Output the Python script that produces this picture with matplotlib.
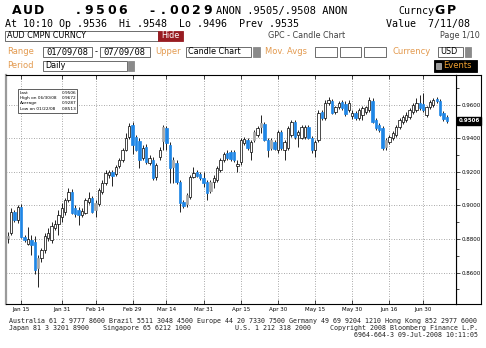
import matplotlib
matplotlib.use("Agg")
import matplotlib.pyplot as plt
import matplotlib.transforms as mtransforms
from matplotlib.patches import Rectangle
from matplotlib.ticker import MultipleLocator, FormatStrFormatter
import numpy as np
import pandas as pd

# AUD/USD daily candles, business days 09 Jan 2008 .. 09 Jul 2008
start_date = "2008-01-09"
end_date = "2008-07-09"

opens = [
    0.8818, 0.8836, 0.8961, 0.8913, 0.8991, 0.8812, 0.8770, 0.8794, 0.8782, 0.8687,
    0.8687, 0.8734, 0.8806, 0.8794, 0.8866, 0.8890, 0.8931, 0.8961, 0.9033, 0.9081,
    0.8985, 0.8973, 0.8943, 0.8955, 0.9021, 0.9045, 0.9015, 0.9009, 0.9081, 0.9134,
    0.9182, 0.9200, 0.9188, 0.9236, 0.9272, 0.9331, 0.9409, 0.9481, 0.9409, 0.9385,
    0.9284, 0.9349, 0.9254, 0.9272, 0.9170, 0.9290, 0.9469, 0.9463, 0.9361, 0.9272,
    0.9254, 0.9140, 0.9021, 0.9063, 0.9051, 0.9170, 0.9200, 0.9188, 0.9164, 0.9140,
    0.9140, 0.9140, 0.9152, 0.9212, 0.9272, 0.9313, 0.9319, 0.9319, 0.9236, 0.9260,
    0.9373, 0.9391, 0.9319, 0.9439, 0.9421, 0.9493, 0.9487, 0.9391, 0.9391, 0.9379,
    0.9331, 0.9439, 0.9331, 0.9343, 0.9421, 0.9499, 0.9421, 0.9403, 0.9409, 0.9469,
    0.9403, 0.9331, 0.9391, 0.9558, 0.9522, 0.9612, 0.9624, 0.9558, 0.9588, 0.9618,
    0.9606, 0.9570, 0.9534, 0.9552, 0.9522, 0.9540, 0.9558, 0.9570, 0.9624, 0.9510,
    0.9481, 0.9463, 0.9391, 0.9379, 0.9403, 0.9421, 0.9469, 0.9499, 0.9510, 0.9528,
    0.9558, 0.9570, 0.9612, 0.9606, 0.9540, 0.9588, 0.9600, 0.9636, 0.9624, 0.9552,
    0.9528,
]
highs = [
    0.8842, 0.8985, 0.8973, 0.9003, 0.9009, 0.8824, 0.8872, 0.8824, 0.8818, 0.8704,
    0.8746, 0.8836, 0.8866, 0.8901, 0.8913, 0.8973, 0.9015, 0.9045, 0.9104, 0.9099,
    0.9003, 0.8991, 0.8985, 0.9045, 0.9081, 0.9057, 0.9033, 0.9104, 0.9152, 0.9212,
    0.9212, 0.9212, 0.9242, 0.9284, 0.9343, 0.9433, 0.9493, 0.9499, 0.9421, 0.9403,
    0.9361, 0.9367, 0.9301, 0.9290, 0.9254, 0.9349, 0.9481, 0.9475, 0.9379, 0.9290,
    0.9272, 0.9152, 0.9033, 0.9075, 0.9182, 0.9230, 0.9212, 0.9200, 0.9200, 0.9152,
    0.9152, 0.9182, 0.9236, 0.9284, 0.9319, 0.9331, 0.9331, 0.9331, 0.9272, 0.9403,
    0.9409, 0.9403, 0.9391, 0.9451, 0.9475, 0.9540, 0.9499, 0.9403, 0.9403, 0.9391,
    0.9451, 0.9451, 0.9391, 0.9475, 0.9510, 0.9510, 0.9451, 0.9481, 0.9481, 0.9481,
    0.9415, 0.9391, 0.9570, 0.9570, 0.9630, 0.9648, 0.9636, 0.9594, 0.9624, 0.9630,
    0.9624, 0.9630, 0.9570, 0.9564, 0.9582, 0.9594, 0.9594, 0.9648, 0.9642, 0.9522,
    0.9493, 0.9475, 0.9403, 0.9421, 0.9445, 0.9481, 0.9522, 0.9540, 0.9558, 0.9582,
    0.9612, 0.9642, 0.9660, 0.9672, 0.9594, 0.9630, 0.9642, 0.9648, 0.9636, 0.9564,
    0.9540,
]
lows = [
    0.8776, 0.8824, 0.8901, 0.8896, 0.8806, 0.8782, 0.8764, 0.8704, 0.8591, 0.8513,
    0.8663, 0.8716, 0.8788, 0.8776, 0.8854, 0.8824, 0.8901, 0.8943, 0.9021, 0.8949,
    0.8931, 0.8884, 0.8931, 0.8949, 0.9009, 0.8955, 0.8931, 0.8997, 0.9069, 0.9122,
    0.9164, 0.9116, 0.9176, 0.9224, 0.9260, 0.9325, 0.9397, 0.9307, 0.9325, 0.9224,
    0.9272, 0.9248, 0.9242, 0.9152, 0.9152, 0.9272, 0.9331, 0.9331, 0.9134, 0.9134,
    0.9128, 0.8961, 0.8985, 0.8991, 0.9039, 0.9164, 0.9170, 0.9152, 0.9110, 0.9033,
    0.9075, 0.9104, 0.9140, 0.9200, 0.9260, 0.9272, 0.9266, 0.9260, 0.9200, 0.9242,
    0.9361, 0.9331, 0.9272, 0.9379, 0.9409, 0.9433, 0.9385, 0.9290, 0.9331, 0.9331,
    0.9313, 0.9331, 0.9272, 0.9331, 0.9409, 0.9397, 0.9349, 0.9397, 0.9397, 0.9397,
    0.9313, 0.9290, 0.9379, 0.9510, 0.9510, 0.9600, 0.9546, 0.9546, 0.9576, 0.9570,
    0.9534, 0.9558, 0.9516, 0.9510, 0.9510, 0.9510, 0.9546, 0.9558, 0.9493, 0.9451,
    0.9439, 0.9331, 0.9331, 0.9367, 0.9391, 0.9409, 0.9457, 0.9487, 0.9499, 0.9516,
    0.9546, 0.9558, 0.9570, 0.9558, 0.9528, 0.9576, 0.9588, 0.9612, 0.9534, 0.9504,
    0.9493,
]
closes = [
    0.8806, 0.8961, 0.8913, 0.8991, 0.8812, 0.8794, 0.8800, 0.8764, 0.8615, 0.8627,
    0.8734, 0.8818, 0.8836, 0.8878, 0.8890, 0.8943, 0.8985, 0.9033, 0.9081, 0.8955,
    0.8950, 0.8946, 0.8967, 0.9033, 0.9045, 0.8961, 0.8973, 0.9093, 0.9134, 0.9194,
    0.9200, 0.9176, 0.9230, 0.9272, 0.9331, 0.9403, 0.9475, 0.9361, 0.9331, 0.9272,
    0.9343, 0.9260, 0.9284, 0.9164, 0.9242, 0.9331, 0.9385, 0.9373, 0.9224, 0.9230,
    0.9140, 0.9015, 0.8997, 0.9009, 0.9170, 0.9194, 0.9176, 0.9164, 0.9134, 0.9075,
    0.9087, 0.9164, 0.9224, 0.9272, 0.9307, 0.9284, 0.9278, 0.9272, 0.9248, 0.9391,
    0.9397, 0.9343, 0.9379, 0.9391, 0.9463, 0.9469, 0.9391, 0.9331, 0.9343, 0.9337,
    0.9439, 0.9343, 0.9379, 0.9463, 0.9499, 0.9409, 0.9439, 0.9469, 0.9469, 0.9403,
    0.9331, 0.9379, 0.9552, 0.9522, 0.9612, 0.9630, 0.9552, 0.9588, 0.9612, 0.9582,
    0.9546, 0.9612, 0.9552, 0.9522, 0.9570, 0.9582, 0.9588, 0.9630, 0.9499, 0.9463,
    0.9451, 0.9343, 0.9349, 0.9409, 0.9433, 0.9469, 0.9510, 0.9528, 0.9540, 0.9570,
    0.9600, 0.9612, 0.9582, 0.9570, 0.9588, 0.9618, 0.9630, 0.9624, 0.9540, 0.9516,
    0.9506,
]

tick_dates = ["2008-01-15", "2008-01-31", "2008-02-14", "2008-02-29", "2008-03-14",
              "2008-03-31", "2008-04-15", "2008-04-30", "2008-05-15", "2008-05-30",
              "2008-06-16", "2008-06-30"]
tick_labels = ["Jan 15", "Jan 31", "Feb 14", "Feb 29", "Mar 14", "Mar 31",
               "Apr 15", "Apr 30", "May 15", "May 30", "Jun 16", "Jun 30"]
price_ticks = [0.86, 0.88, 0.90, 0.92, 0.94, 0.96]
last_price = 0.9506

legend_names = ["Last", "High on 06/30/08", "Average", "Low on 01/22/08"]
legend_values = ["0.9506", "0.9672", "0.9287", "0.8513"]

W, H = 486, 348
ORANGE = "#e39a4f"
BLUE = "#1f86e6"
GRAY = "#a6a6a6"
MONO = "DejaVu Sans Mono"


def fx(px):
    return px / W


def fy(py):
    return 1 - py / H


fig = plt.figure(figsize=(W / 100, H / 100), dpi=100)
fig.patch.set_facecolor("white")


def box(x0, y0, x1, y1, fc="white", ec="#555555", lw=0.6):
    fig.patches.append(Rectangle((fx(x0), fy(y1)), fx(x1) - fx(x0), fy(y0) - fy(y1),
                                 transform=fig.transFigure, fc=fc, ec=ec, lw=lw))


def label(x, y, s, **kw):
    kw.setdefault("va", "center")
    fig.text(fx(x), fy(y), s, **kw)


def spaced(x0, y, s, pitch, **kw):
    for k, ch in enumerate(s):
        fig.text(fx(x0 + pitch * (k + 0.5)), fy(y), ch, ha="center", va="center", **kw)


# ---- main chart
dates = pd.bdate_range(start_date, end_date)
x = np.arange(len(dates))
o = np.array(opens)
h = np.array(highs)
l = np.array(lows)
c = np.array(closes)
prev = np.r_[c[0], c[:-1]]
up = c > o
face = np.where(up, "white", np.where(c < prev, BLUE, GRAY))
edge = np.where(up, "black", face)

ax = fig.add_axes([fx(6), fy(304), fx(455.6) - fx(6), fy(75) - fy(304)])
ax.vlines(x, l, h, color="black", lw=0.6, zorder=2)
ax.bar(x, np.maximum(np.abs(c - o), 0.0004), bottom=np.minimum(o, c), width=0.7,
       color=face, edgecolor=edge, linewidth=0.5, zorder=3)

ax.set_xlim(-0.5, 132.6)
ax.set_ylim(0.8412, 0.9779)

tick_pos = [dates.get_loc(pd.Timestamp(d)) for d in tick_dates]
ax.set_xticks(tick_pos)
ax.set_xticklabels(tick_labels, fontsize=4)
ax.tick_params(axis="x", direction="in", length=3, width=0.5, pad=2, top=True)

ax.yaxis.tick_right()
ax.set_yticks(price_ticks)
ax.yaxis.set_major_formatter(FormatStrFormatter("%.4f"))
ax.yaxis.set_minor_locator(MultipleLocator(0.01))
ax.tick_params(axis="y", which="major", direction="out", length=3, width=0.5, pad=1.5, labelsize=4)
ax.tick_params(axis="y", which="minor", direction="out", length=2, width=0.5)

ax.grid(True, which="major", ls=(0, (1, 2)), color="#8c8c8c", lw=0.6)
for side in ["top", "bottom", "right"]:
    ax.spines[side].set_color("black")
    ax.spines[side].set_linewidth(0.8)
ax.spines["left"].set_color("#9a9a9a")
ax.spines["left"].set_linewidth(1.6)

trans = mtransforms.blended_transform_factory(ax.transAxes, ax.transData)
ax.text(1.006, last_price, "%.4f" % last_price, transform=trans, fontsize=4, color="white",
        fontweight="bold", ha="left", va="center",
        bbox=dict(boxstyle="square,pad=0.25", fc="black", ec="black"))

# right price strip frame
ax2 = fig.add_axes([fx(455.6), fy(304), fx(481) - fx(455.6), fy(75) - fy(304)])
ax2.set_xticks([])
ax2.set_yticks([])
ax2.patch.set_alpha(0)
for side in ["top", "bottom", "right", "left"]:
    ax2.spines[side].set_linewidth(0.8)
ax2.set_zorder(-1)

# legend box
box(18, 89, 77, 113, ec="#444444", lw=0.6)
for k, (name, val) in enumerate(zip(legend_names, legend_values)):
    yy = 93 + 5.2 * k
    label(19.5, yy, name, fontsize=3.1)
    label(76.5, yy, val, fontsize=3.1, ha="right")

# ---- header
spaced(11, 11, "AUD", 11.3, fontsize=9, fontweight="bold")
spaced(72, 11, ".9506", 11.3, fontsize=9, fontweight="bold")
spaced(146, 11, "-.0029", 11.2, fontsize=9, fontweight="bold")
label(216, 11, "ANON .9505/.9508 ANON", fontsize=7.5, family=MONO)
label(398, 11, "Curncy", fontsize=7.2, family=MONO)
spaced(434, 11, "GP", 11.5, fontsize=9, fontweight="bold")

label(5, 24, "At 10:10 Op .9536  Hi .9548  Lo .9496  Prev .9535", fontsize=7.2, family=MONO)
label(386, 24, "Value  7/11/08", fontsize=7.2, family=MONO)

box(5, 31, 158, 41)
label(7, 36, "AUD CMPN CURNCY", fontsize=5.8)
box(158, 31, 183, 41, fc="#981c22", ec="#981c22")
label(170.5, 36, "Hide", fontsize=5.8, color="white", ha="center")
label(307, 36, "GPC - Candle Chart", fontsize=5.8, color="#404040", ha="center")
label(480, 36, "Page 1/10", fontsize=5.8, color="#404040", ha="right")

label(7, 52, "Range", fontsize=6, color=ORANGE)
box(43, 47, 92, 57)
label(46, 52, "01/09/08", fontsize=6.3, family=MONO)
label(95, 52, "-", fontsize=6)
box(100, 47, 150, 57)
label(103, 52, "07/09/08", fontsize=6.3, family=MONO)
label(155, 52, "Upper", fontsize=6, color=ORANGE)
box(186, 47, 251, 57)
label(188, 52, "Candle Chart", fontsize=5.8)
box(253, 47, 260, 57, fc="#8a8a8a", ec="#8a8a8a")
label(265, 52, "Mov. Avgs", fontsize=6, color=ORANGE)
box(315, 47, 337, 57)
box(340, 47, 361, 57)
box(364, 47, 386, 57)
label(392, 52, "Currency", fontsize=6, color=ORANGE)
box(438, 47, 463, 57)
label(440, 52, "USD", fontsize=5.8)
box(465, 47, 471, 57, fc="#8a8a8a", ec="#8a8a8a")

label(7, 66, "Period", fontsize=6, color=ORANGE)
box(43, 61, 127, 71)
label(45, 66, "Daily", fontsize=5.8)
box(128, 61, 134, 71, fc="#8a8a8a", ec="#8a8a8a")
box(434, 60, 477, 72, fc="black", ec="black")
box(436, 63, 441, 69, fc="#9a9a9a", ec="#dddddd", lw=0.4)
label(443, 66, "Events", fontsize=6, color="#f0a030")

# ---- footer
foot = dict(fontsize=4.8, family=MONO, color="#202020")
label(9, 321, "Australia 61 2 9777 8600 Brazil 5511 3048 4500 Europe 44 20 7330 7500 "
      "Germany 49 69 9204 1210 Hong Kong 852 2977 6000", **foot)
label(9, 328, "Japan 81 3 3201 8900", **foot)
label(103, 328, "Singapore 65 6212 1000", **foot)
label(235, 328, "U.S. 1 212 318 2000", **foot)
label(478, 328, "Copyright 2008 Bloomberg Finance L.P.", ha="right", **foot)
label(478, 335, "6964-664-3 09-Jul-2008 10:11:05", ha="right", **foot)

fig.savefig("out.png", dpi=100)
